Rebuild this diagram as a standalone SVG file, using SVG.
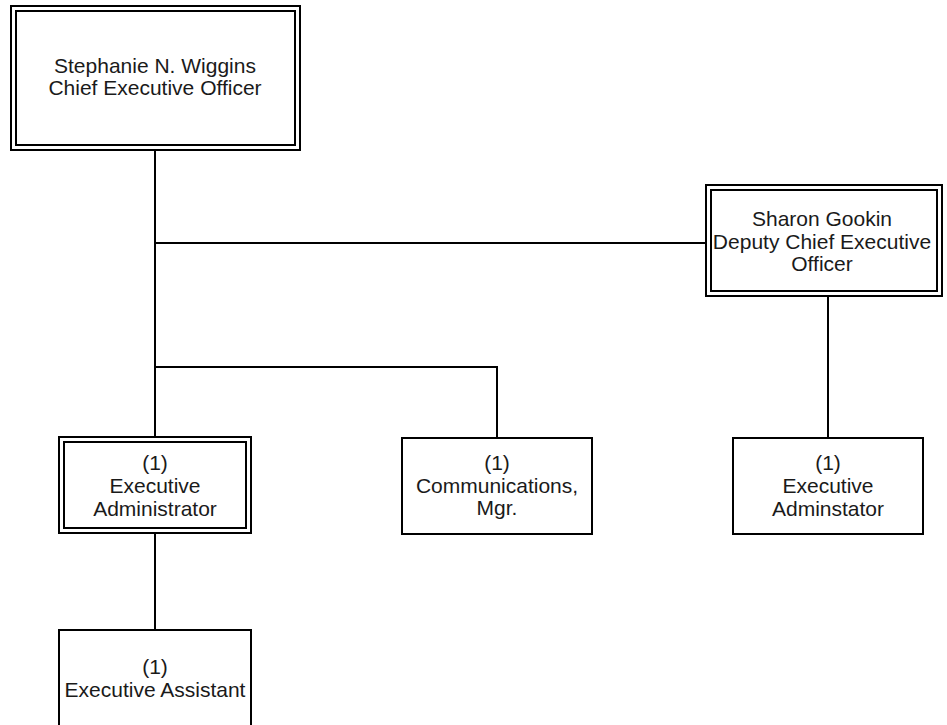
<svg xmlns="http://www.w3.org/2000/svg" width="947" height="725" viewBox="0 0 947 725">
<style>
.box{fill:#fff;stroke:#000;stroke-width:2}
.inner{fill:none;stroke:#000;stroke-width:2}
.t{font-family:"Liberation Sans",Arial,sans-serif;font-size:21px;fill:#1a1a1a;text-anchor:middle}
.c{fill:none;stroke:#000;stroke-width:2}
</style>
<rect width="947" height="725" fill="#fff"/>
<g id="connectors">
<path class="c" d="M155 150V438"/>
<path class="c" d="M155 243H706"/>
<path class="c" d="M155 367H497V438"/>
<path class="c" d="M828 296V438"/>
<path class="c" d="M155 533V630"/>
</g>
<g id="ceo">
<rect class="box" x="11" y="6" width="289" height="144"/>
<rect class="inner" x="16" y="11" width="279" height="134"/>
<text class="t" x="155" y="73">Stephanie N. Wiggins</text>
<text class="t" x="155" y="95">Chief Executive Officer</text>
</g>
<g id="deputy">
<rect class="box" x="706" y="185" width="236" height="111"/>
<rect class="inner" x="711" y="190" width="226" height="101"/>
<text class="t" x="822" y="226">Sharon Gookin</text>
<text class="t" x="822" y="249">Deputy Chief Executive</text>
<text class="t" x="822" y="271">Officer</text>
</g>
<g id="exec-admin">
<rect class="box" x="59" y="437" width="192" height="96"/>
<rect class="inner" x="64" y="442" width="182" height="86"/>
<text class="t" x="155" y="470">(1)</text>
<text class="t" x="155" y="493">Executive</text>
<text class="t" x="155" y="516">Administrator</text>
</g>
<g id="comms">
<rect class="box" x="402" y="438" width="190" height="96"/>
<text class="t" x="497" y="470">(1)</text>
<text class="t" x="497" y="493">Communications,</text>
<text class="t" x="497" y="515">Mgr.</text>
</g>
<g id="exec-adminstator">
<rect class="box" x="733" y="438" width="190" height="96"/>
<text class="t" x="828" y="470">(1)</text>
<text class="t" x="828" y="493">Executive</text>
<text class="t" x="828" y="516">Adminstator</text>
</g>
<g id="exec-assistant">
<rect class="box" x="59" y="630" width="192" height="110"/>
<text class="t" x="155" y="674">(1)</text>
<text class="t" x="155" y="697">Executive Assistant</text>
</g>
</svg>
